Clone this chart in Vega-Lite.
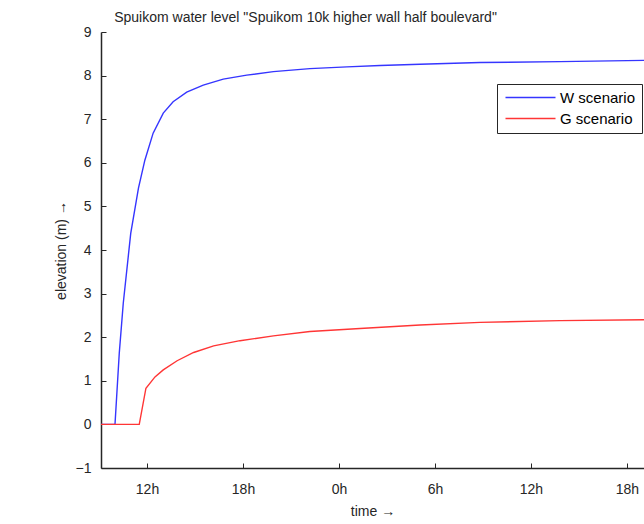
{
  "$schema": "https://vega.github.io/schema/vega-lite/v6.json",
  "width": 543,
  "height": 436,
  "autosize": {"type": "none"},
  "padding": {"left": 101, "top": 32, "right": 0, "bottom": 56},
  "background": "white",
  "config": {
    "view": {"stroke": null},
    "font": "Liberation Sans",
    "axis": {"grid": false, "domainColor": "#262626", "tickColor": "#262626", "labelColor": "#262626", "titleColor": "#262626", "labelFont": "Liberation Sans", "titleFont": "Liberation Sans", "labelFontSize": 14, "titleFontSize": 14, "titleFontWeight": "normal", "domainWidth": 1.5}
  },
  "title": {"text": "Spuikom water level \"Spuikom 10k higher wall half boulevard\"", "fontSize": 14, "fontWeight": "normal", "color": "#262626", "font": "Liberation Sans", "offset": 0, "dx": -67, "anchor": "middle"},
  "data": {"values": [
    {"t": "2020-01-01T09:00", "v": 0, "s": "W scenario"},
    {"t": "2020-01-01T10:00", "v": 0, "s": "W scenario"},
    {"t": "2020-01-01T10:16", "v": 1.63, "s": "W scenario"},
    {"t": "2020-01-01T10:31", "v": 2.78, "s": "W scenario"},
    {"t": "2020-01-01T10:59", "v": 4.38, "s": "W scenario"},
    {"t": "2020-01-01T11:28", "v": 5.42, "s": "W scenario"},
    {"t": "2020-01-01T11:52", "v": 6.06, "s": "W scenario"},
    {"t": "2020-01-01T12:23", "v": 6.68, "s": "W scenario"},
    {"t": "2020-01-01T13:01", "v": 7.14, "s": "W scenario"},
    {"t": "2020-01-01T13:38", "v": 7.4, "s": "W scenario"},
    {"t": "2020-01-01T14:29", "v": 7.62, "s": "W scenario"},
    {"t": "2020-01-01T15:31", "v": 7.78, "s": "W scenario"},
    {"t": "2020-01-01T16:46", "v": 7.92, "s": "W scenario"},
    {"t": "2020-01-01T18:14", "v": 8.01, "s": "W scenario"},
    {"t": "2020-01-01T19:54", "v": 8.09, "s": "W scenario"},
    {"t": "2020-01-01T22:11", "v": 8.16, "s": "W scenario"},
    {"t": "2020-01-02T00:30", "v": 8.2, "s": "W scenario"},
    {"t": "2020-01-02T02:34", "v": 8.23, "s": "W scenario"},
    {"t": "2020-01-02T05:04", "v": 8.26, "s": "W scenario"},
    {"t": "2020-01-02T08:49", "v": 8.3, "s": "W scenario"},
    {"t": "2020-01-02T13:49", "v": 8.32, "s": "W scenario"},
    {"t": "2020-01-02T19:04", "v": 8.35, "s": "W scenario"},
    {"t": "2020-01-02T20:00", "v": 8.35, "s": "W scenario"},
    {"t": "2020-01-01T09:00", "v": 0, "s": "G scenario"},
    {"t": "2020-01-01T11:31", "v": 0, "s": "G scenario"},
    {"t": "2020-01-01T11:56", "v": 0.83, "s": "G scenario"},
    {"t": "2020-01-01T12:30", "v": 1.09, "s": "G scenario"},
    {"t": "2020-01-01T13:01", "v": 1.25, "s": "G scenario"},
    {"t": "2020-01-01T13:53", "v": 1.46, "s": "G scenario"},
    {"t": "2020-01-01T14:55", "v": 1.65, "s": "G scenario"},
    {"t": "2020-01-01T16:10", "v": 1.8, "s": "G scenario"},
    {"t": "2020-01-01T17:49", "v": 1.92, "s": "G scenario"},
    {"t": "2020-01-01T19:54", "v": 2.03, "s": "G scenario"},
    {"t": "2020-01-01T22:11", "v": 2.13, "s": "G scenario"},
    {"t": "2020-01-02T01:19", "v": 2.2, "s": "G scenario"},
    {"t": "2020-01-02T05:04", "v": 2.28, "s": "G scenario"},
    {"t": "2020-01-02T08:49", "v": 2.34, "s": "G scenario"},
    {"t": "2020-01-02T13:49", "v": 2.38, "s": "G scenario"},
    {"t": "2020-01-02T19:04", "v": 2.4, "s": "G scenario"},
    {"t": "2020-01-02T20:00", "v": 2.4, "s": "G scenario"}
  ]},
  "mark": {"type": "line", "clip": true, "strokeWidth": 1.4},
  "encoding": {
    "x": {
      "field": "t", "type": "temporal",
      "scale": {"domain": [{"year": 2020, "month": 1, "date": 1, "hours": 9, "minutes": 7, "seconds": 30}, {"year": 2020, "month": 1, "date": 2, "hours": 19, "minutes": 4}], "nice": false},
      "axis": {"title": "time →", "format": "%-Hh", "values": [
        {"year": 2020, "month": 1, "date": 1, "hours": 12},
        {"year": 2020, "month": 1, "date": 1, "hours": 18},
        {"year": 2020, "month": 1, "date": 2, "hours": 0},
        {"year": 2020, "month": 1, "date": 2, "hours": 6},
        {"year": 2020, "month": 1, "date": 2, "hours": 12},
        {"year": 2020, "month": 1, "date": 2, "hours": 18}
      ], "tickSize": -5, "labelPadding": 19, "titlePadding": 8, "labelFlush": false, "labelOverlap": false}
    },
    "y": {
      "field": "v", "type": "quantitative",
      "scale": {"domain": [-1, 9], "nice": false, "zero": false},
      "axis": {"title": "elevation (m) →", "values": [-1, 0, 1, 2, 3, 4, 5, 6, 7, 8, 9], "tickSize": -5, "labelPadding": 15, "titlePadding": 7}
    },
    "color": {
      "field": "s", "type": "nominal",
      "scale": {"domain": ["W scenario", "G scenario"], "range": ["#3535ff", "#ff3535"]},
      "legend": {"title": null, "orient": "none", "legendX": 396, "legendY": 52, "symbolType": "M-1,0H9", "symbolSize": 100, "symbolStrokeWidth": 1.4, "labelFontSize": 15, "labelColor": "#000000", "labelFont": "Liberation Sans", "strokeColor": "#262626", "fillColor": "white", "padding": 6, "rowPadding": 5, "labelOffset": 42}
    }
  }
}
